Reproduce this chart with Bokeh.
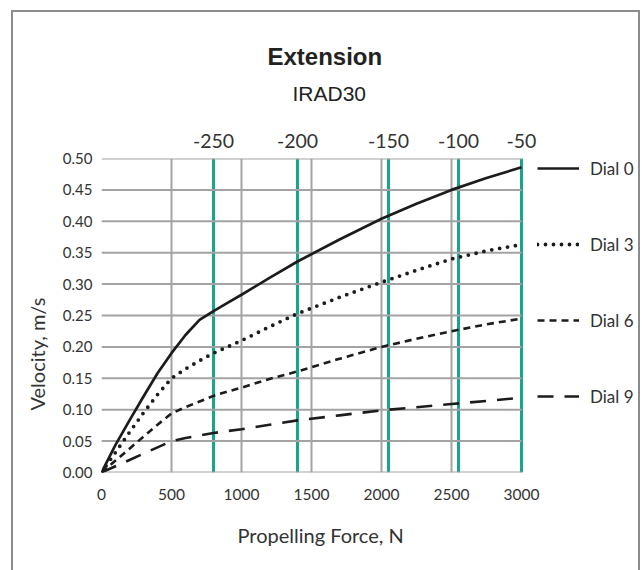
from bokeh.plotting import figure
from bokeh.models import (Range1d, LinearAxis, FixedTicker, Span, Legend, LegendItem,
                          Title, PrintfTickFormatter)
from bokeh.embed import file_html
from bokeh.resources import INLINE

# ---------------- data ----------------
force = [0, 100, 200, 300, 400, 500, 600, 700, 800, 900, 1000, 1200, 1400,
         1700, 2000, 2250, 2500, 2750, 3000]
dial0 = [0.000, 0.044, 0.083, 0.121, 0.158, 0.190, 0.219, 0.243, 0.257, 0.270,
         0.283, 0.310, 0.336, 0.371, 0.404, 0.428, 0.450, 0.469, 0.486]
dial3 = [0.000, 0.032, 0.064, 0.095, 0.124, 0.150, 0.165, 0.178, 0.190, 0.200,
         0.210, 0.232, 0.253, 0.279, 0.303, 0.322, 0.340, 0.353, 0.363]
dial6 = [0.000, 0.019, 0.038, 0.057, 0.076, 0.094, 0.104, 0.113, 0.122, 0.129,
         0.135, 0.149, 0.161, 0.181, 0.200, 0.213, 0.225, 0.236, 0.245]
dial9 = [0.000, 0.010, 0.020, 0.030, 0.040, 0.050, 0.055, 0.059, 0.063, 0.066,
         0.069, 0.076, 0.083, 0.091, 0.099, 0.104, 0.109, 0.114, 0.119]
series_names = ["Dial 0", "Dial 3", "Dial 6", "Dial 9"]

x_ticks = [0, 500, 1000, 1500, 2000, 2500, 3000]
y_ticks = [0.00, 0.05, 0.10, 0.15, 0.20, 0.25, 0.30, 0.35, 0.40, 0.45, 0.50]
setting_force = [800, 1400, 2050, 2550, 3000]
setting_labels = ["-250", "-200", "-150", "-100", "-50"]

title_text = "Extension"
subtitle_text = "IRAD30"
x_label = "Propelling Force, N"
y_label = "Velocity, m/s"

# ---------------- styling ----------------
FONT = "Lato"
TXT = "#333333"
GRID = "#a3a3a3"
GREEN = "#19a688"
LINE = "#1c1c1c"

W, H = 642, 570
LEFT, GRID_RIGHT, TOP, BOTTOM = 101, 521, 158, 472
# the frame also holds the legend area to the right of the grid box
x_end = x_ticks[-1] * (W - LEFT) / (GRID_RIGHT - LEFT)

p = figure(width=W, height=H, x_range=Range1d(0, x_end), y_range=Range1d(0, 0.5),
           output_backend="svg", toolbar_location=None,
           min_border_left=LEFT, min_border_right=0, min_border_top=TOP,
           min_border_bottom=H - BOTTOM,
           background_fill_color="white", border_fill_color="white")
p.outline_line_color = None

# outer box of the chart (drawn by CSS on the plot's host element)
p.stylesheets = [":host::after { content: ''; position: absolute; left: 11px; top: 10px; "
                 "width: 629px; height: 560px; border: 2px solid #8c8c8c; border-bottom: none; "
                 "box-sizing: border-box; pointer-events: none; }"]


def style_axis(ax, size, standoff):
    ax.axis_line_color = None
    ax.major_tick_line_color = None
    ax.minor_tick_line_color = None
    ax.major_tick_out = 0
    ax.major_tick_in = 0
    ax.minor_tick_out = 0
    ax.minor_tick_in = 0
    ax.major_label_standoff = standoff
    ax.major_label_text_font = FONT
    ax.major_label_text_font_size = size
    ax.major_label_text_color = TXT


p.xaxis.ticker = FixedTicker(ticks=x_ticks)
style_axis(p.xaxis[0], "15.5px", 16)
p.yaxis.ticker = FixedTicker(ticks=y_ticks)
p.yaxis.formatter = PrintfTickFormatter(format="%.2f")
style_axis(p.yaxis[0], "15px", 9)

top = LinearAxis(ticker=FixedTicker(ticks=setting_force),
                 major_label_overrides={f: t for f, t in zip(setting_force, setting_labels)})
style_axis(top, "19.5px", 11)
p.add_layout(top, "above")

# spacer between the top axis and the subtitle
p.add_layout(Title(text=" ", text_font_size="10px", standoff=8), "above")
p.add_layout(Title(text=subtitle_text, align="left", offset=191, standoff=10,
                   text_font="Liberation Sans", text_font_style="normal",
                   text_font_size="21px", text_color="#222222"), "above")
p.title.text = title_text
p.title.align = "left"
p.title.offset = 166
p.title.standoff = 10
p.title.text_font = "Liberation Sans"
p.title.text_font_style = "bold"
p.title.text_font_size = "24px"
p.title.text_color = "#222222"

# axis titles
p.add_layout(Title(text=x_label, align="left", offset=136, vertical_align="bottom", standoff=36,
                   text_font=FONT, text_font_style="normal", text_font_size="20px",
                   text_color=TXT), "below")
p.add_layout(Title(text=y_label, align="left", offset=62, vertical_align="bottom", standoff=22,
                   text_font=FONT, text_font_style="normal", text_font_size="20px",
                   text_color=TXT), "left")

# grid box: vertical lines via the grid, horizontal lines only across the box
p.xgrid.ticker = FixedTicker(ticks=x_ticks)
p.xgrid.grid_line_color = GRID
p.xgrid.grid_line_width = 2
p.ygrid.visible = False
p.segment(x0=[x_ticks[0]] * len(y_ticks), x1=[x_ticks[-1]] * len(y_ticks),
          y0=y_ticks, y1=y_ticks, line_color=GRID, line_width=2)

for f in setting_force:
    p.add_layout(Span(location=f, dimension="height", line_color=GREEN, line_width=3,
                      level="underlay"))

line_styles = [
    dict(line_dash="solid", line_width=2.7),
    dict(line_dash="0 8", line_width=3.8, line_cap="round"),
    dict(line_dash="7 5", line_width=2.6),
    dict(line_dash="16 11", line_width=2.6),
]
series = [dial0, dial3, dial6, dial9]
items = []
for name, vals, st in zip(series_names, series, line_styles):
    r = p.line(force, vals, line_color=LINE, **st)
    items.append(LegendItem(label=name, renderers=[r]))

legend = Legend(items=items, location=(436, 64), orientation="vertical",
                padding=0, margin=0, spacing=52,
                border_line_color=None, background_fill_alpha=0,
                glyph_width=42, glyph_height=24, label_height=24, label_standoff=11,
                label_text_font=FONT, label_text_font_size="17px", label_text_color=TXT)
p.add_layout(legend)

open("out.html", "w").write(file_html(p, INLINE))
